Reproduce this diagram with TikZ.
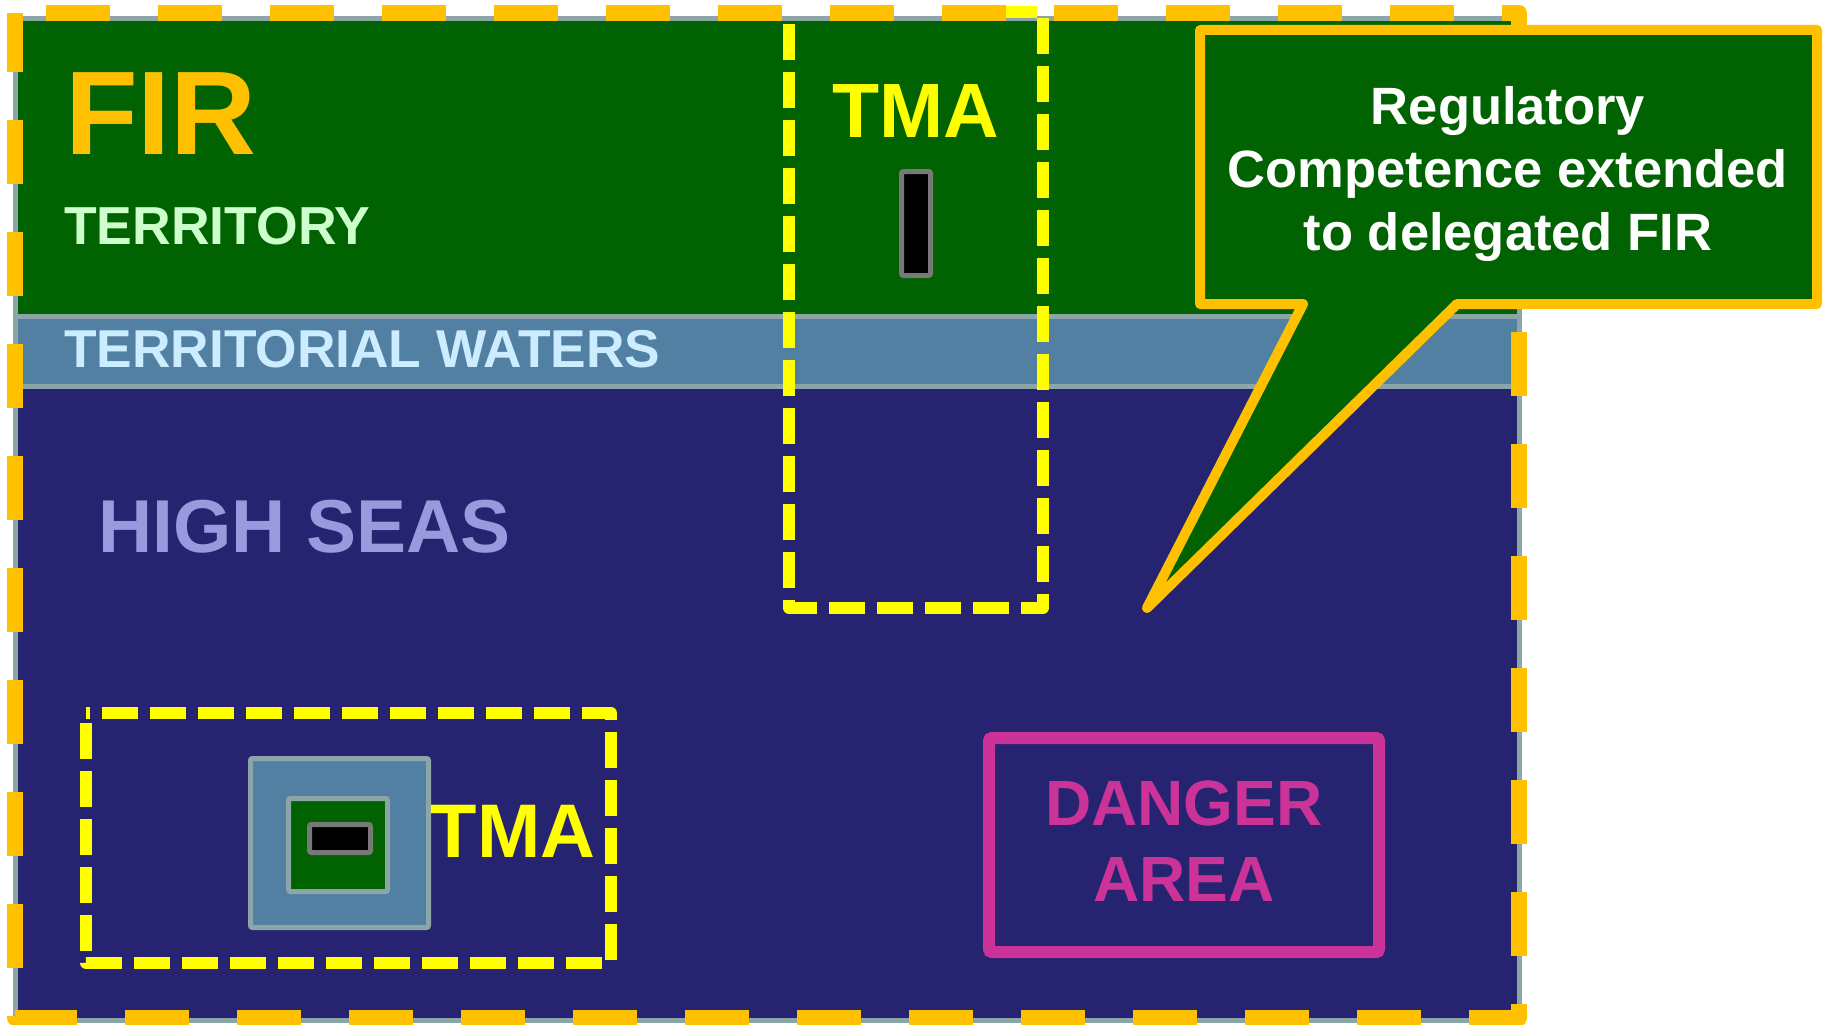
\documentclass[tikz,border=0pt]{standalone}
\usepackage{fontspec}
\setmainfont{Liberation Sans}
\usepackage{xcolor}
\usepackage{tikz}
\definecolor{firgreen}{RGB}{0,98,0}
\definecolor{water}{RGB}{82,128,162}
\definecolor{seanavy}{RGB}{38,36,112}
\definecolor{zonegray}{RGB}{140,165,168}
\definecolor{firorange}{RGB}{255,192,0}
\definecolor{tmayellow}{RGB}{255,255,0}
\definecolor{dangerpink}{RGB}{204,51,153}
\definecolor{landtext}{RGB}{204,255,204}
\definecolor{watertext}{RGB}{204,236,255}
\definecolor{seatext}{RGB}{153,153,221}
\newcommand{\fsz}[2]{\fontsize{#1}{#2}\selectfont\bfseries}
\tikzset{
  lbl/.style={inner sep=0pt, anchor=base west},
  zone/.style={draw=zonegray, line width=5pt},
  tmabox/.style={draw=tmayellow, line width=12pt, dash pattern=on 36pt off 12pt, line join=round},
  firedge/.style={draw=firorange, line width=16pt, dash pattern=on 64pt off 48pt, dash phase=81pt, line join=round},
  runway/.style={draw=black!53, line width=5pt, fill=black, rounded corners=2pt, inner sep=0pt},
  sqbox/.style={zone, rounded corners=2pt, inner sep=0pt},
}

\begin{document}
\begin{tikzpicture}[x=1pt, y=-1pt]
  \useasboundingbox (0,0) rectangle (1823,1025);
  % zones
  \fill[firgreen] (15,19) rectangle (1519,316);
  \fill[seanavy] (15,386) rectangle (1519,1020);
  \draw[zone, fill=water] (15,316) rectangle (1519,386);
  \draw[zone] (15,19) rectangle (1519,1020);

  \node[lbl, text=firorange, font=\fsz{119}{119}] (fir) at (65,154) {FIR};
  \node[lbl, text=landtext, font=\fsz{53.5}{53.5}] (territory) at (64,244) {TERRITORY};
  \node[lbl, text=watertext, font=\fsz{53.3}{53.3}] (waters) at (64,367) {TERRITORIAL WATERS};
  \node[lbl, text=seatext, font=\fsz{75}{75}] (highseas) at (98,552) {HIGH SEAS};

  % TMA over the coast
  \draw[tmabox] (789,24) -- (789,608) -- (1043,608) -- (1043,12) -- (1004,12);
  \node[inner sep=0pt, anchor=base, text=tmayellow, font=\fsz{77}{77}] (tmaup) at (916,137) {TMA};
  \node[runway, minimum width=29pt, minimum height=104pt] (rwyup) at (916,223.5) {};

  % TMA on the island
  \draw[tmabox, dash phase=32pt] (86,713) -- (611,713) -- (611,963) -- (86,963) -- cycle;
  \node[sqbox, fill=water, minimum width=178pt, minimum height=169pt] (isle) at (339.5,843) {};
  \node[sqbox, fill=firgreen, minimum width=99pt, minimum height=93pt] (land) at (338,845) {};
  \node[runway, minimum width=61pt, minimum height=28pt] (rwylow) at (340,838.5) {};
  \node[inner sep=0pt, anchor=base, text=tmayellow, font=\fsz{76}{76}] (tmalow) at (513,857) {TMA};

  \node[draw=dangerpink, line width=12pt, rounded corners=3pt, minimum width=390pt, minimum height=214pt] (danger) at (1184,845) {};
  \node[inner sep=0pt, text=dangerpink, align=center, font=\fsz{64}{76}] (dangertxt) at (1184,841) {DANGER\\AREA};

  % FIR limit
  \draw[firedge] (15,13) -- (1519,13) -- (1519,1018) -- (15,1018) -- cycle;

  % callout
  \draw[draw=firorange, fill=firgreen, line width=10pt, line join=round]
    (1200,30) -- (1817,30) -- (1817,304) -- (1457,304) -- (1147,608) -- (1303,304) -- (1200,304) -- cycle;
  \node[inner sep=0pt, text=white, align=center, font=\fsz{52.5}{63}] (regul) at (1508,174.5)
    {Regulatory\\Competence extended\\to delegated FIR};
\end{tikzpicture}
\end{document}
